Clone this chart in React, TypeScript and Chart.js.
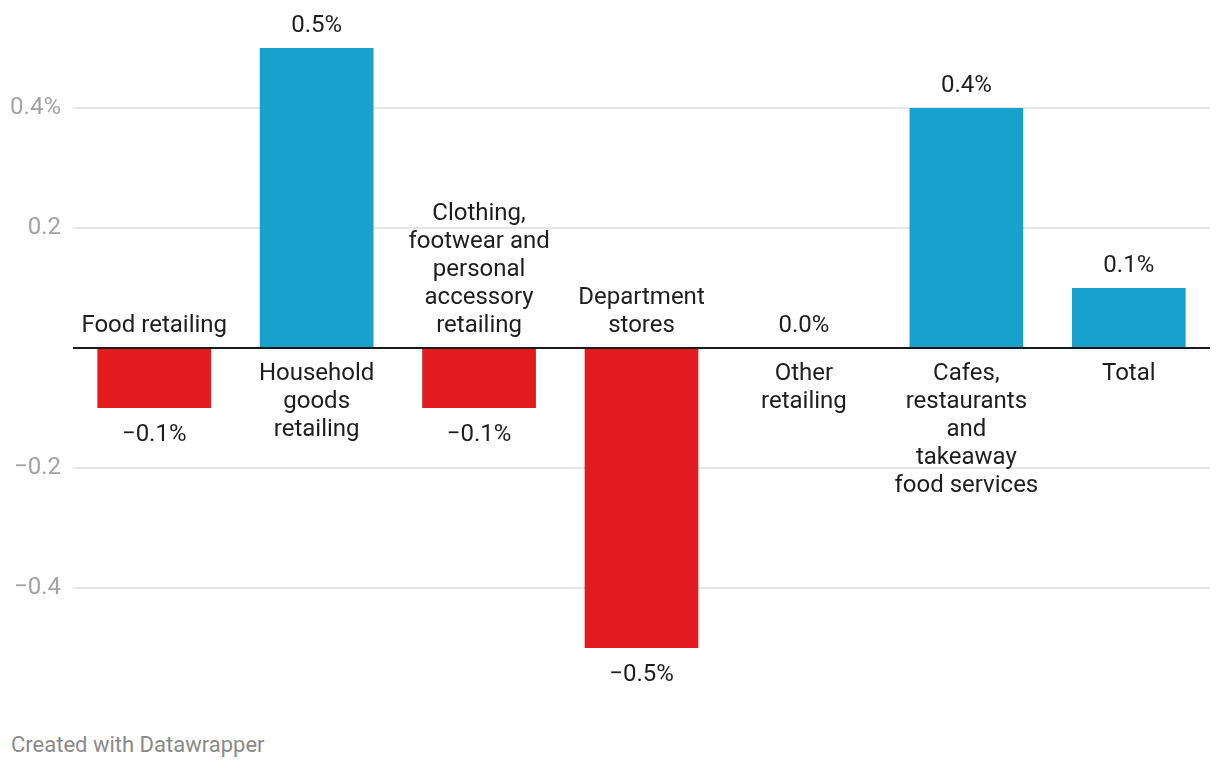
import React, { useEffect, useRef } from "react";
import { Chart, registerables } from "chart.js";

Chart.register(...registerables);

const categories: string[][] = [
  ["Food retailing"],
  ["Household", "goods", "retailing"],
  ["Clothing,", "footwear and", "personal", "accessory", "retailing"],
  ["Department", "stores"],
  ["Other", "retailing"],
  ["Cafes,", "restaurants", "and", "takeaway", "food services"],
  ["Total"],
];
const values: number[] = [-0.1, 0.5, -0.1, -0.5, 0.0, 0.4, 0.1];
const tickValues: number[] = [-0.4, -0.2, 0, 0.2, 0.4];
const tickLabels: string[] = ["\u22120.4", "\u22120.2", "", "0.2", "0.4%"];

const BLUE = "#18a1cd";
const RED = "#e11b1e";
const TEXT = "#1d1d1d";
const FONT = "Roboto, 'Noto Sans', sans-serif";

const fmt = (v: number) => (v < 0 ? "\u2212" : "") + Math.abs(v).toFixed(1) + "%";

const labelPlugin = {
  id: "barLabels",
  afterDatasetsDraw(chart: any) {
    const ctx = chart.ctx;
    const area = chart.chartArea;
    const yScale = chart.scales.y;
    const zeroY = yScale.getPixelForValue(0);
    ctx.save();
    ctx.strokeStyle = "#1a1a1a";
    ctx.lineWidth = 2;
    ctx.beginPath();
    ctx.moveTo(area.left, zeroY);
    ctx.lineTo(area.right, zeroY);
    ctx.stroke();

    ctx.font = `24px ${FONT}`;
    ctx.fillStyle = TEXT;
    ctx.textAlign = "center";
    ctx.textBaseline = "middle";
    const lh = 28;
    const meta = chart.getDatasetMeta(0);
    meta.data.forEach((bar: any, i: number) => {
      const v = values[i];
      const lines = categories[i];
      const x = bar.x;
      const endY = yScale.getPixelForValue(v);
      if (v < 0) {
        ctx.fillText(fmt(v), x, endY + 27);
        lines.forEach((ln, k) => {
          ctx.fillText(ln, x, zeroY - 22 - (lines.length - 1 - k) * lh);
        });
      } else {
        ctx.fillText(fmt(v), x, endY - 22);
        lines.forEach((ln, k) => {
          ctx.fillText(ln, x, zeroY + 26 + k * lh);
        });
      }
    });
    ctx.restore();
  },
};

export default function App() {
  const ref = useRef<HTMLCanvasElement | null>(null);
  useEffect(() => {
    if (!ref.current) return;
    const chart = new Chart(ref.current, {
      type: "bar",
      data: {
        labels: categories.map((c) => c.join(" ")),
        datasets: [
          {
            data: values,
            backgroundColor: values.map((v) => (v < 0 ? RED : BLUE)),
            categoryPercentage: 1,
            barPercentage: 0.7,
            borderWidth: 0,
          },
        ],
      },
      options: {
        animation: false,
        responsive: false,
        devicePixelRatio: 1,
        layout: { padding: { top: 0, bottom: 0, left: 0, right: 10 } },
        plugins: {
          legend: { display: false },
          tooltip: { enabled: false },
        },
        scales: {
          x: { display: false },
          y: {
            min: -0.576,
            max: 0.536,
            afterBuildTicks: (scale: any) => {
              scale.ticks = tickValues.map((v) => ({ value: v }));
            },
            afterFit: (scale: any) => {
              scale.width = 73;
            },
            border: { display: false },
            grid: {
              drawTicks: false,
              lineWidth: 2,
              color: (ctx: any) =>
                ctx.tick && ctx.tick.value === 0 ? "rgba(0,0,0,0)" : "#e6e6e6",
            },
            ticks: {
              padding: 12,
              color: "#a3a3a3",
              font: { family: FONT, size: 24 },
              callback: (_v: any, i: number) => tickLabels[i],
            },
          },
        },
      },
      plugins: [labelPlugin],
    });
    return () => chart.destroy();
  }, []);

  return (
    <div style={{ position: "absolute", left: 0, top: 0, width: 1220, height: 768, background: "#fff" }}>
      <canvas ref={ref} width={1220} height={720} style={{ display: "block" }} />
      <div
        style={{
          position: "absolute",
          left: 11,
          top: 732,
          fontFamily: FONT,
          fontSize: 22,
          color: "#8a8a8a",
          lineHeight: "26px",
        }}
      >
        Created with Datawrapper
      </div>
    </div>
  );
}
